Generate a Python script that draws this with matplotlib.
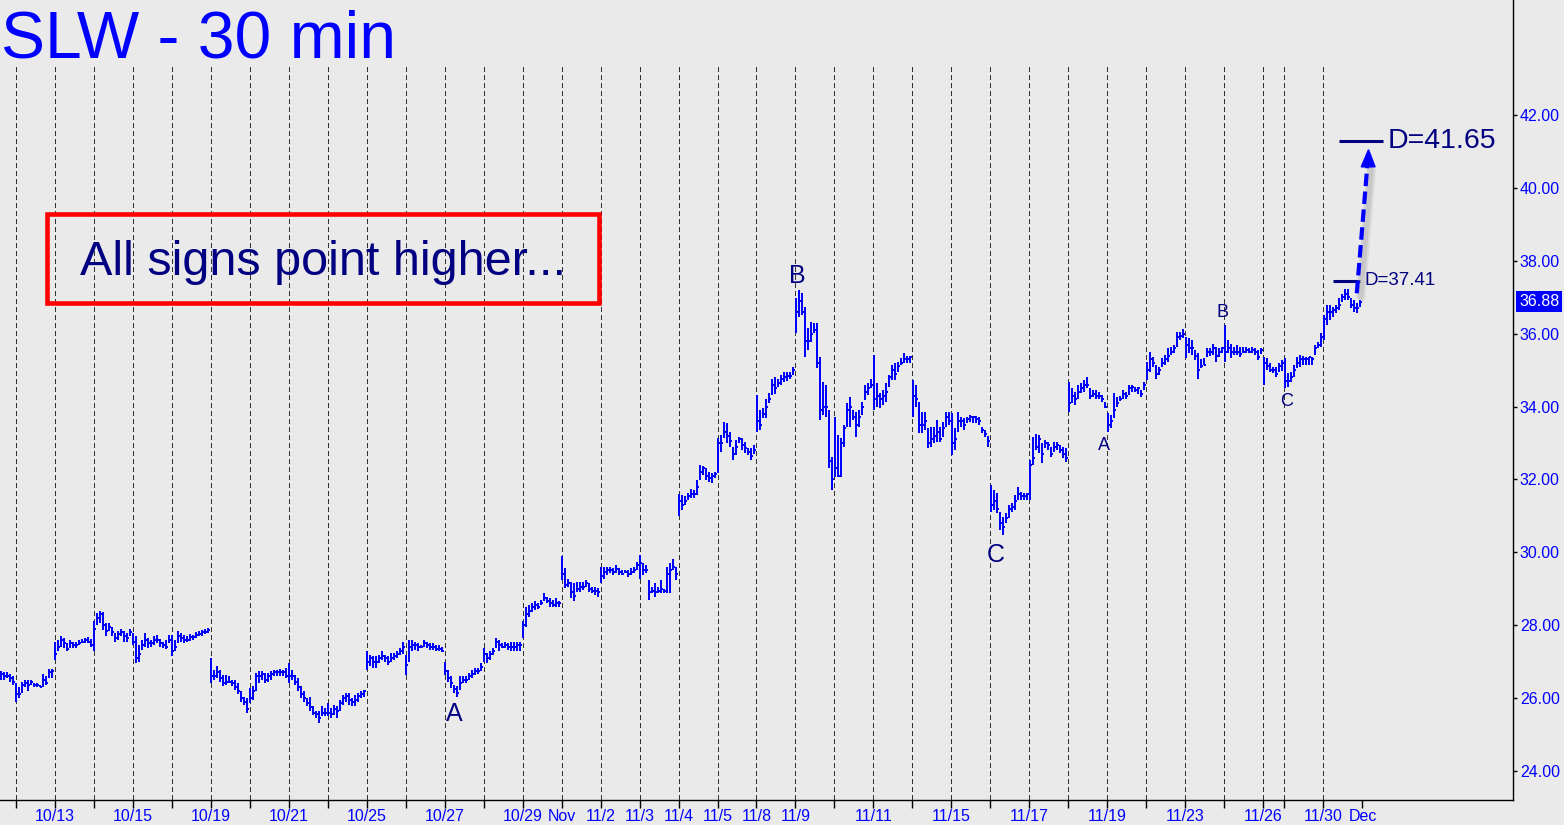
"""SLW 30-minute bar chart with wave labels and targets."""

import matplotlib

matplotlib.use("Agg")

import matplotlib.pyplot as plt
import matplotlib.transforms as mtransforms
from matplotlib.collections import LineCollection
from matplotlib.patches import Polygon, Rectangle

plt.rcParams["font.family"] = ["Liberation Sans", "DejaVu Sans"]

# trading sessions shown (10/11 only partially visible, 11/26 half day)
sessions = ["10/11", "10/12", "10/13", "10/14", "10/15", "10/18", "10/19", "10/20",
            "10/21", "10/22", "10/25", "10/26", "10/27", "10/28", "10/29", "11/1",
            "11/2", "11/3", "11/4", "11/5", "11/8", "11/9", "11/10", "11/11",
            "11/12", "11/15", "11/16", "11/17", "11/18", "11/19", "11/22", "11/23",
            "11/24", "11/26", "11/29", "11/30"]

highs = [
    [26.75, 26.7, 26.7, 26.65, 26.6],
    [26.4, 26.3, 26.45, 26.5, 26.5, 26.5, 26.4, 26.4, 26.35, 26.65, 26.6, 26.8, 26.8],
    [27.55, 27.6, 27.7, 27.65, 27.5, 27.6, 27.55, 27.55, 27.6, 27.62, 27.65, 27.67, 27.62],
    [28.1, 28.33, 28.38, 28.36, 28.05, 28.05, 27.96, 27.78, 27.83, 27.9, 27.83, 27.78, 27.9],
    [27.78, 27.7, 27.46, 27.6, 27.78, 27.65, 27.6, 27.7, 27.72, 27.62, 27.55, 27.6, 27.74],
    [27.74, 27.6, 27.83, 27.78, 27.74, 27.7, 27.76, 27.74, 27.8, 27.83, 27.87, 27.89, 27.92],
    [27.1, 26.77, 26.87, 26.77, 26.64, 26.64, 26.6, 26.5, 26.5, 26.4, 26.18, 26.04, 26.0],
    [26.27, 26.32, 26.68, 26.73, 26.73, 26.68, 26.68, 26.73, 26.77, 26.77, 26.8, 26.77, 26.82],
    [26.96, 26.77, 26.64, 26.55, 26.32, 26.18, 26.0, 26.04, 25.77, 25.63, 25.63, 25.77, 25.72],
    [25.86, 25.72, 25.82, 25.77, 25.95, 26.09, 26.13, 26.13, 26.0, 26.09, 26.13, 26.18, 26.22],
    [27.28, 27.19, 27.14, 27.14, 27.19, 27.28, 27.19, 27.14, 27.23, 27.23, 27.28, 27.37, 27.55],
    [27.19, 27.6, 27.6, 27.55, 27.5, 27.46, 27.6, 27.55, 27.5, 27.5, 27.46, 27.45, 27.41],
    [27.0, 26.77, 26.6, 26.36, 26.32, 26.6, 26.6, 26.6, 26.68, 26.77, 26.82, 26.82, 26.96],
    [27.37, 27.23, 27.28, 27.37, 27.65, 27.6, 27.5, 27.55, 27.5, 27.55, 27.55, 27.55, 27.55],
    [28.1, 28.51, 28.55, 28.6, 28.65, 28.6, 28.69, 28.87, 28.78, 28.74, 28.69, 28.74, 28.65],
    [29.9, 29.56, 29.28, 29.19, 29.15, 29.19, 29.19, 29.19, 29.24, 29.15, 29.06, 29.06, 29.01],
    [29.6, 29.6, 29.6, 29.6, 29.56, 29.65, 29.56, 29.51, 29.51, 29.51, 29.56, 29.6, 29.74],
    [29.93, 29.7, 29.65, 29.24, 29.06, 29.15, 29.06, 29.24, 29.0, 29.6, 29.7, 29.81, 29.6],
    [31.6, 31.57, 31.55, 31.62, 31.75, 31.7, 31.98, 32.4, 32.37, 32.3, 32.21, 32.17, 32.21],
    [33.13, 33.22, 33.58, 33.54, 33.31, 32.9, 33.08, 33.17, 33.13, 33.04, 32.85, 32.85, 32.94],
    [34.32, 33.9, 33.95, 34.22, 34.36, 34.77, 34.82, 34.77, 34.86, 34.96, 34.95, 34.96, 35.09],
    [36.97, 37.2, 37.11, 36.74, 36.15, 36.33, 36.28, 36.28, 35.37, 34.68, 34.6, 33.9, 32.62],
    [33.72, 33.22, 33.13, 33.49, 34.09, 34.27, 33.9, 33.86, 33.9, 34.13, 34.59, 34.64, 34.77],
    [35.41, 34.64, 34.36, 34.45, 34.64, 34.86, 35.14, 35.19, 35.23, 35.32, 35.46, 35.4, 35.38],
    [34.73, 34.59, 34.13, 33.86, 33.86, 33.4, 33.45, 33.45, 33.63, 33.45, 33.58, 33.86, 33.86],
    [33.81, 33.4, 33.86, 33.72, 33.68, 33.72, 33.77, 33.75, 33.73, 33.7, 33.45, 33.36, 33.2],
    [31.85, 31.71, 31.62, 31.11, 30.98, 31.07, 31.3, 31.34, 31.57, 31.8, 31.65, 31.62, 31.62],
    [32.53, 33.17, 33.26, 33.22, 32.99, 33.08, 33.04, 32.9, 33.04, 33.04, 32.94, 32.9, 32.85],
    [34.68, 34.5, 34.41, 34.59, 34.64, 34.73, 34.8, 34.5, 34.45, 34.45, 34.4, 34.32, 34.13],
    [33.81, 33.77, 34.36, 34.27, 34.3, 34.45, 34.4, 34.59, 34.59, 34.55, 34.55, 34.45, 34.68],
    [35.23, 35.5, 35.37, 35.14, 35.09, 35.32, 35.41, 35.6, 35.64, 35.69, 36.05, 36.05, 36.14],
    [35.92, 35.87, 35.82, 35.55, 35.46, 35.3, 35.32, 35.6, 35.6, 35.73, 35.64, 35.6, 35.64],
    [36.24, 35.82, 35.73, 35.64, 35.69, 35.64, 35.64, 35.64, 35.6, 35.64, 35.6, 35.55, 35.6],
    [35.37, 35.32, 35.2, 35.09, 35.09, 35.2, 35.28],
    [35.32, 34.91, 34.96, 35.14, 35.37, 35.41, 35.4, 35.35, 35.37, 35.35, 35.69, 35.78, 36.01],
    [36.51, 36.79, 36.79, 36.74, 36.79, 36.97, 37.1, 37.24, 37.24, 36.97, 36.92, 36.83, 36.92],
]

lows = [
    [26.5, 26.5, 26.55, 26.45, 26.35],
    [25.9, 26.0, 26.15, 26.3, 26.2, 26.35, 26.3, 26.3, 26.3, 26.3, 26.35, 26.55, 26.55],
    [27.05, 27.28, 27.4, 27.37, 27.28, 27.37, 27.37, 27.37, 27.46, 27.5, 27.5, 27.5, 27.4],
    [27.3, 28.0, 28.05, 27.87, 27.7, 27.83, 27.7, 27.55, 27.6, 27.7, 27.55, 27.55, 27.7],
    [27.46, 26.96, 27.0, 27.32, 27.41, 27.37, 27.41, 27.46, 27.5, 27.41, 27.37, 27.34, 27.5],
    [27.14, 27.28, 27.5, 27.55, 27.5, 27.55, 27.57, 27.6, 27.64, 27.69, 27.7, 27.76, 27.78],
    [26.4, 26.5, 26.55, 26.45, 26.32, 26.36, 26.4, 26.32, 26.22, 26.1, 25.9, 25.81, 25.58],
    [25.86, 25.95, 26.18, 26.4, 26.5, 26.4, 26.45, 26.5, 26.6, 26.6, 26.6, 26.6, 26.55],
    [26.4, 26.5, 26.36, 26.18, 26.0, 25.9, 25.77, 25.63, 25.54, 25.45, 25.31, 25.5, 25.5],
    [25.5, 25.45, 25.54, 25.45, 25.63, 25.81, 25.9, 25.81, 25.77, 25.77, 25.9, 26.0, 26.04],
    [26.77, 26.87, 26.82, 26.82, 26.96, 27.05, 27.0, 26.91, 27.0, 27.05, 27.1, 27.19, 27.2],
    [26.64, 27.0, 27.28, 27.32, 27.28, 27.37, 27.41, 27.37, 27.32, 27.32, 27.3, 27.3, 27.26],
    [26.64, 26.45, 26.27, 26.13, 26.04, 26.22, 26.4, 26.4, 26.5, 26.55, 26.64, 26.66, 26.73],
    [27.0, 26.96, 27.05, 27.19, 27.37, 27.28, 27.37, 27.37, 27.32, 27.3, 27.28, 27.3, 27.3],
    [27.64, 27.96, 28.23, 28.37, 28.42, 28.45, 28.55, 28.65, 28.6, 28.51, 28.49, 28.51, 28.49],
    [29.24, 29.01, 29.06, 28.74, 28.65, 28.92, 28.92, 28.96, 29.06, 28.92, 28.87, 28.83, 28.76],
    [29.15, 29.28, 29.38, 29.42, 29.38, 29.42, 29.38, 29.38, 29.42, 29.33, 29.38, 29.42, 29.5],
    [29.28, 29.38, 29.42, 28.69, 28.87, 28.78, 28.87, 28.87, 28.87, 28.87, 28.87, 29.51, 29.24],
    [31.0, 31.16, 31.3, 31.44, 31.48, 31.5, 31.57, 31.98, 32.12, 31.98, 31.94, 31.89, 32.03],
    [32.17, 32.76, 33.13, 32.99, 32.9, 32.53, 32.67, 32.99, 32.81, 32.72, 32.67, 32.53, 32.7],
    [33.31, 33.36, 33.68, 33.68, 34.09, 34.32, 34.34, 34.55, 34.59, 34.68, 34.7, 34.77, 34.86],
    [36.01, 36.47, 36.51, 35.37, 35.55, 35.78, 36.01, 35.05, 33.63, 33.77, 33.72, 32.3, 31.71],
    [32.08, 32.08, 32.08, 32.9, 33.45, 33.45, 33.63, 33.17, 33.45, 33.77, 34.18, 34.32, 34.5],
    [33.9, 34.0, 33.95, 34.04, 34.13, 34.55, 34.73, 34.73, 34.96, 35.14, 35.19, 35.19, 35.19],
    [33.72, 34.0, 33.27, 33.27, 33.36, 32.85, 32.9, 32.99, 33.04, 33.04, 33.17, 33.45, 33.5],
    [32.67, 32.8, 33.31, 33.45, 33.36, 33.54, 33.58, 33.55, 33.55, 33.5, 33.27, 33.17, 32.9],
    [31.11, 31.16, 31.07, 30.61, 30.47, 30.79, 30.93, 31.11, 31.16, 31.44, 31.44, 31.44, 31.44],
    [31.44, 32.4, 32.81, 32.72, 32.44, 32.85, 32.81, 32.62, 32.76, 32.8, 32.72, 32.6, 32.49],
    [33.86, 34.09, 34.04, 34.22, 34.36, 34.41, 34.5, 34.22, 34.27, 34.2, 34.22, 34.13, 33.95],
    [33.31, 33.4, 33.68, 34.0, 34.15, 34.22, 34.2, 34.32, 34.4, 34.4, 34.35, 34.27, 34.45],
    [34.73, 34.96, 35.09, 34.77, 34.86, 35.09, 35.14, 35.23, 35.41, 35.46, 35.64, 35.82, 35.87],
    [35.32, 35.46, 35.41, 35.28, 34.77, 35.05, 35.14, 35.37, 35.4, 35.41, 35.23, 35.37, 35.46],
    [35.23, 35.46, 35.32, 35.41, 35.41, 35.37, 35.46, 35.46, 35.46, 35.46, 35.41, 35.28, 35.45],
    [34.59, 35.0, 34.95, 34.91, 34.82, 34.95, 34.98],
    [34.5, 34.55, 34.68, 34.82, 35.05, 35.09, 35.15, 35.15, 35.15, 35.15, 35.41, 35.6, 35.64],
    [35.83, 36.24, 36.38, 36.47, 36.56, 36.65, 36.88, 36.92, 36.92, 36.7, 36.6, 36.56, 36.74],
]

closes = [
    [26.65, 26.6, 26.6, 26.55, 26.45],
    [26.1, 26.1, 26.35, 26.4, 26.35, 26.45, 26.35, 26.35, 26.3, 26.5, 26.4, 26.7, 26.75],
    [27.2, 27.4, 27.6, 27.5, 27.35, 27.5, 27.45, 27.45, 27.5, 27.55, 27.6, 27.55, 27.45],
    [27.9, 28.2, 28.3, 28.0, 27.85, 27.95, 27.8, 27.65, 27.75, 27.8, 27.7, 27.65, 27.8],
    [27.55, 27.1, 27.2, 27.45, 27.6, 27.5, 27.5, 27.6, 27.6, 27.5, 27.45, 27.4, 27.6],
    [27.3, 27.4, 27.7, 27.65, 27.6, 27.6, 27.68, 27.68, 27.72, 27.76, 27.8, 27.82, 27.88],
    [26.6, 26.6, 26.7, 26.55, 26.4, 26.45, 26.45, 26.4, 26.3, 26.2, 26.0, 25.9, 25.7],
    [26.0, 26.2, 26.6, 26.6, 26.65, 26.5, 26.6, 26.65, 26.7, 26.7, 26.7, 26.72, 26.6],
    [26.6, 26.6, 26.45, 26.3, 26.1, 26.0, 25.85, 25.75, 25.6, 25.55, 25.45, 25.6, 25.6],
    [25.6, 25.55, 25.7, 25.65, 25.85, 26.0, 26.05, 25.95, 25.9, 25.95, 26.05, 26.1, 26.2],
    [27.0, 27.1, 27.0, 27.0, 27.1, 27.15, 27.1, 27.0, 27.1, 27.15, 27.2, 27.3, 27.4],
    [26.9, 27.4, 27.45, 27.45, 27.4, 27.4, 27.5, 27.45, 27.4, 27.4, 27.35, 27.35, 27.3],
    [26.75, 26.55, 26.4, 26.25, 26.15, 26.4, 26.5, 26.5, 26.6, 26.65, 26.75, 26.75, 26.85],
    [27.2, 27.1, 27.2, 27.3, 27.55, 27.45, 27.4, 27.45, 27.4, 27.4, 27.4, 27.45, 27.45],
    [28.0, 28.3, 28.4, 28.5, 28.55, 28.5, 28.6, 28.75, 28.65, 28.6, 28.55, 28.6, 28.6],
    [29.4, 29.1, 29.15, 28.9, 28.8, 29.0, 29.05, 29.05, 29.15, 29.0, 28.95, 28.95, 28.9],
    [29.35, 29.45, 29.5, 29.5, 29.45, 29.55, 29.45, 29.4, 29.45, 29.4, 29.45, 29.5, 29.65],
    [29.7, 29.5, 29.5, 28.9, 28.95, 28.9, 28.95, 29.0, 28.95, 29.4, 29.5, 29.6, 29.4],
    [31.4, 31.3, 31.4, 31.55, 31.6, 31.6, 31.8, 32.2, 32.3, 32.1, 32.05, 32.1, 32.15],
    [33.0, 33.0, 33.3, 33.2, 33.05, 32.7, 32.9, 33.1, 32.95, 32.85, 32.75, 32.65, 32.8],
    [33.6, 33.5, 33.8, 34.0, 34.2, 34.6, 34.5, 34.65, 34.75, 34.8, 34.85, 34.85, 35.0],
    [36.6, 36.9, 36.6, 35.8, 35.8, 36.0, 36.1, 35.2, 33.9, 34.0, 34.0, 32.5, 32.0],
    [32.3, 32.1, 33.0, 33.4, 33.9, 34.0, 33.7, 33.5, 33.7, 34.0, 34.4, 34.5, 34.6],
    [34.2, 34.3, 34.2, 34.3, 34.4, 34.8, 35.0, 34.9, 35.1, 35.2, 35.3, 35.3, 35.35],
    [34.3, 34.2, 33.5, 33.5, 33.6, 33.0, 33.1, 33.2, 33.3, 33.1, 33.4, 33.7, 33.6],
    [33.0, 33.1, 33.6, 33.6, 33.5, 33.65, 33.7, 33.7, 33.65, 33.6, 33.35, 33.25, 33.05],
    [31.3, 31.4, 31.2, 30.8, 30.7, 30.95, 31.2, 31.25, 31.4, 31.6, 31.55, 31.55, 31.6],
    [32.4, 32.6, 32.9, 33.1, 32.7, 33.0, 32.95, 32.7, 32.9, 32.95, 32.8, 32.7, 32.6],
    [34.1, 34.3, 34.2, 34.4, 34.5, 34.6, 34.6, 34.3, 34.35, 34.3, 34.3, 34.2, 34.0],
    [33.5, 33.6, 33.9, 34.1, 34.2, 34.35, 34.3, 34.5, 34.55, 34.45, 34.5, 34.35, 34.6],
    [35.0, 35.3, 35.2, 34.9, 35.0, 35.2, 35.3, 35.4, 35.5, 35.6, 35.9, 35.95, 36.0],
    [35.7, 35.6, 35.6, 35.4, 35.0, 35.1, 35.15, 35.5, 35.5, 35.6, 35.4, 35.5, 35.6],
    [35.5, 35.6, 35.5, 35.5, 35.5, 35.45, 35.5, 35.55, 35.5, 35.55, 35.5, 35.35, 35.55],
    [35.2, 35.1, 35.0, 35.0, 34.9, 35.1, 35.2],
    [34.7, 34.7, 34.8, 35.0, 35.2, 35.3, 35.3, 35.3, 35.35, 35.3, 35.6, 35.7, 35.9],
    [36.4, 36.6, 36.6, 36.65, 36.7, 36.8, 37.0, 37.1, 37.0, 36.8, 36.7, 36.7, 36.88],
]

tick_labels = {"10/13": "10/13", "10/15": "10/15", "10/19": "10/19", "10/21": "10/21",
               "10/25": "10/25", "10/27": "10/27", "10/29": "10/29", "11/1": "Nov",
               "11/2": "11/2", "11/3": "11/3", "11/4": "11/4", "11/5": "11/5",
               "11/8": "11/8", "11/9": "11/9", "11/11": "11/11", "11/15": "11/15",
               "11/17": "11/17", "11/19": "11/19", "11/23": "11/23", "11/26": "11/26",
               "11/30": "11/30", "12/1": "Dec"}

last_price = 36.88
target_labels = ["D=37.41", "D=41.65"]
target_levels = [37.45, 41.3]

BLUE = "#0000ff"
NAVY = "#000080"
BG = "#eaeaea"


def main() -> None:
    fig = plt.figure(figsize=(15.64, 8.25), dpi=100, facecolor=BG)
    ax = fig.add_axes([0, 25 / 825, 1513 / 1564, 800 / 825], facecolor=BG)

    # bar index of each session start; 10/11 is cut off on the left
    starts = []
    pos = -len(highs[0])
    for day in highs:
        starts.append(pos)
        pos += len(day)
    end_index = pos

    segs = []
    for start, hs, ls, cs in zip(starts, highs, lows, closes):
        for j, (h, l, c) in enumerate(zip(hs, ls, cs)):
            x = start + j + 0.3
            segs.append([(x, l), (x, h)])
            segs.append([(x, c), (x + 0.55, c)])
    ax.add_collection(LineCollection(segs, colors=BLUE, linewidths=1.44, capstyle="butt",
                                     antialiaseds=False, zorder=3))

    # session separators
    ax.vlines(starts[1:], 23.0, 43.35, colors="#333333", linewidth=0.8,
              linestyles=(0, (4, 3)), antialiased=False, zorder=1)

    ax.set_xlim(-5.17, 499.17)
    ax.set_ylim(23.2, 45.16)

    for side in ("left", "top"):
        ax.spines[side].set_visible(False)
    ax.spines["bottom"].set_linewidth(1.0)
    ax.spines["right"].set_linewidth(1.0)

    tick_pos = starts[1:] + [end_index]
    tick_names = sessions[1:] + ["12/1"]
    ax.set_xticks(tick_pos)
    ax.set_xticklabels([tick_labels.get(s, "") for s in tick_names], color=BLUE, fontsize=11.5)
    ax.tick_params(axis="x", length=6, width=1, pad=0.5)

    ax.yaxis.tick_right()
    ax.set_yticks(range(24, 43, 2))
    ax.set_yticklabels([f"{v:.2f}" for v in range(24, 43, 2)], color=BLUE, fontsize=11.5)
    ax.tick_params(axis="y", length=3, width=1, pad=2)

    # last price tag
    tag_tr = mtransforms.blended_transform_factory(ax.transAxes, ax.transData)
    ax.annotate(f"{last_price:.2f}", xy=(1.0, last_price), xycoords=tag_tr,
                xytext=(6, 0), textcoords="offset pixels", va="center", ha="left",
                color="white", fontsize=11.5, annotation_clip=False,
                bbox=dict(boxstyle="square,pad=0.2", fc=BLUE, ec="none"))

    # wave labels
    ax.text(260.5, 37.58, "B", color=NAVY, fontsize=18, ha="center", va="center")
    ax.text(146.2, 25.56, "A", color=NAVY, fontsize=18, ha="center", va="center")
    ax.text(326.8, 29.93, "C", color=NAVY, fontsize=18, ha="center", va="center")
    ax.text(362.8, 32.94, "A", color=NAVY, fontsize=13, ha="center", va="center")
    ax.text(402.2, 36.59, "B", color=NAVY, fontsize=13, ha="center", va="center")
    ax.text(423.6, 34.15, "C", color=NAVY, fontsize=13, ha="center", va="center")

    # targets
    ax.hlines(target_levels[0], 439.2, 448.2, colors=NAVY, linewidth=2.2, zorder=4)
    ax.text(449.6, target_levels[0], target_labels[0], color=NAVY, fontsize=13.5,
            ha="left", va="center")
    ax.hlines(target_levels[1], 441.2, 456.0, colors=NAVY, linewidth=2.2, zorder=4)
    ax.text(457.4, target_levels[1], target_labels[1], color=NAVY, fontsize=20.5,
            ha="left", va="center")

    # dashed projection arrow with a soft shadow
    x0, y0, x1, y1 = 447.1, 37.11, 450.6, 40.6
    for off, alpha in ((5, 0.25), (3, 0.35)):
        shadow = mtransforms.offset_copy(ax.transData, fig=fig, x=off, y=-off, units="dots")
        ax.plot([x0, x1], [y0, y1], color="#a8a8a8", linewidth=5, alpha=alpha,
                transform=shadow, solid_capstyle="round", zorder=4)
    ax.plot([x0, x1], [y0, y1], color=BLUE, linewidth=3.0, linestyle=(0, (3, 1.3)),
            dash_capstyle="butt", zorder=5)
    head = Polygon([(451.0, 41.05), (448.6, 40.58), (453.2, 40.58)], closed=True,
                   fc=BLUE, ec=BLUE, zorder=5)
    ax.add_patch(head)

    # headline and comment box
    fig.text(1 / 1564, 1 - 57 / 825, "SLW - 30 min", color=BLUE, fontsize=47.5,
             ha="left", va="baseline")
    fig.patches.append(Rectangle((47 / 1564, 1 - 303 / 825), 552 / 1564, 89 / 825,
                                 transform=fig.transFigure, fill=False, ec="#ff0000",
                                 lw=3.3, zorder=6))
    fig.text(80 / 1564, 1 - 275 / 825, "All signs point higher...", color=NAVY,
             fontsize=35, ha="left", va="baseline")

    fig.savefig("out.png", dpi=100, facecolor=BG)
    plt.close(fig)


if __name__ == "__main__":
    main()
